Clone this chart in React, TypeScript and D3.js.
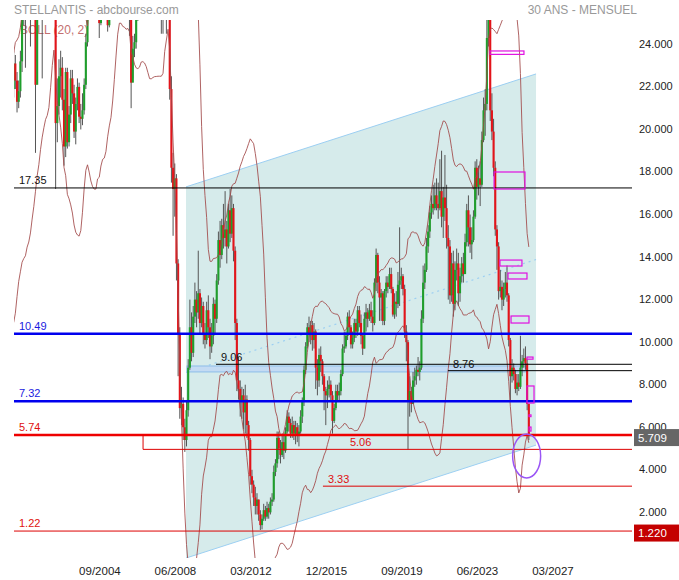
import React from 'react';
import * as d3 from 'd3';

// monthly closes, Jan 1999 -> Mar 2026 (one row per year)
const closes = [
  13.0, 12.4, 13.2, 14.5, 14.0, 15.2, 15.8, 15.0, 16.3, 17.5, 17.0, 18.6,
  17.8, 19.0, 20.2, 19.6, 21.0, 21.8, 22.0, 23.2, 22.4, 21.4, 21.9, 23.3,
  25.5, 27.0, 28.0, 29.0, 30.0, 28.5, 29.0, 27.5, 22.2, 26.0, 28.0, 29.0,
  28.0, 29.5, 31.0, 32.0, 33.0, 31.5, 29.0, 27.5, 20.4, 21.2, 22.6, 23.0,
  21.5, 19.3, 22.8, 19.5, 20.8, 22.5, 21.8, 20.0, 21.3, 22.1, 20.7, 20.6,
  21.0, 22.2, 24.2, 26.5, 27.0, 28.0, 27.5, 26.8, 27.2, 26.0, 25.1, 26.5,
  27.5, 28.5, 26.5, 25.0, 26.5, 27.5, 28.5, 28.0, 28.8, 27.5, 28.0, 29.0,
  30.0, 29.0, 30.0, 29.5, 26.0, 22.3, 23.9, 24.2, 25.5, 27.0, 28.0, 29.5,
  30.5, 31.0, 32.0, 33.5, 34.0, 33.0, 32.0, 30.5, 31.0, 32.5, 30.0, 29.5,
  27.0, 27.5, 26.5, 26.5, 22.0, 18.3, 17.3, 17.8, 13.8, 10.5, 7.0, 7.2,
  6.1, 5.5, 6.9, 8.9, 10.8, 9.6, 11.3, 12.1, 11.5, 12.4, 11.0, 11.8,
  10.5, 10.2, 11.6, 10.8, 9.9, 10.4, 11.9, 11.2, 13.0, 14.9, 14.2, 15.6,
  15.0, 15.4, 14.6, 16.3, 15.2, 16.4, 14.4, 11.0, 8.3, 7.9, 7.3, 7.6,
  6.8, 7.4, 6.2, 5.5, 3.8, 3.4, 2.8, 2.4, 2.7, 2.0, 1.5, 1.8,
  2.2, 1.9, 2.3, 2.1, 2.6, 2.7, 4.0, 4.4, 5.6, 5.1, 4.8, 5.4,
  5.0, 5.9, 6.6, 6.3, 5.8, 6.2, 5.8, 6.1, 5.7, 5.9, 6.6, 7.3,
  8.8, 9.9, 10.8, 10.5, 10.9, 10.2, 10.6, 8.9, 8.3, 9.5, 9.2, 8.5,
  7.8, 7.6, 7.9, 8.1, 7.6, 6.4, 7.0, 7.8, 7.6, 7.8, 8.6, 9.8,
  9.9, 10.4, 11.3, 10.8, 10.0, 10.3, 11.0, 10.6, 11.6, 11.0, 10.4, 9.8,
  11.2, 11.5, 11.2, 11.6, 11.3, 11.0, 12.9, 14.2, 12.9, 12.2, 12.4, 11.1,
  12.5, 12.9, 12.7, 13.3, 12.6, 11.4, 12.0, 11.9, 12.8, 13.0, 13.2, 12.6,
  10.6, 10.1, 7.3, 7.8, 7.2, 8.3, 8.5, 8.8, 8.7, 8.9, 11.2, 12.9,
  13.5, 14.6, 15.3, 16.2, 16.6, 16.4, 17.0, 16.6, 16.4, 17.2, 16.0, 16.9,
  16.4, 15.0, 14.6, 12.3, 13.8, 11.9, 13.5, 13.8, 12.4, 13.2, 13.8, 13.3,
  14.8, 16.3, 15.5, 14.7, 14.9, 16.0, 18.3, 17.4, 17.8, 17.5, 19.6, 21.0,
  21.3, 24.4, 26.0, 21.0, 20.0, 18.3, 15.4, 14.6, 12.5, 12.7, 12.1, 12.6,
  12.9, 12.3, 10.2, 8.5, 8.9, 8.6, 7.9, 8.2, 8.0, 8.9, 9.2, 9.35,
  9.1, 7.2, 5.709,
];

const highs = [
  13.8, 13.5, 13.6, 14.9, 15.0, 15.6, 16.4, 16.2, 16.6, 17.9, 18.0, 18.9,
  18.9, 19.5, 20.8, 21.0, 21.5, 22.4, 22.8, 23.8, 23.6, 22.8, 22.4, 23.8,
  26.0, 27.8, 28.9, 29.8, 30.8, 30.5, 29.8, 29.5, 28.0, 26.8, 28.6, 29.8,
  29.8, 30.2, 31.6, 32.8, 33.8, 33.5, 31.8, 29.8, 28.0, 22.5, 23.4, 23.8,
  23.5, 22.0, 23.0, 23.0, 21.2, 22.9, 22.9, 22.2, 21.6, 22.5, 22.3, 21.3,
  21.8, 22.5, 24.6, 26.9, 27.8, 28.6, 28.3, 27.9, 27.8, 27.5, 26.3, 26.9,
  27.9, 28.9, 28.8, 26.9, 26.8, 27.9, 28.9, 28.9, 29.2, 29.0, 28.4, 29.4,
  30.5, 30.4, 30.6, 30.6, 29.8, 26.5, 24.5, 24.6, 25.9, 27.4, 28.4, 29.8,
  30.9, 31.6, 32.6, 33.9, 34.6, 34.3, 33.4, 32.6, 31.6, 32.9, 32.8, 30.9,
  29.8, 28.5, 27.9, 27.2, 27.0, 22.6, 19.0, 18.5, 18.0, 14.0, 10.8, 8.0,
  7.5, 6.5, 7.3, 9.3, 12.1, 11.5, 11.8, 12.9, 12.5, 14.4, 12.6, 12.2,
  12.0, 11.0, 12.0, 12.3, 11.2, 11.0, 12.2, 12.1, 13.3, 15.3, 15.8, 15.9,
  16.6, 17.2, 15.8, 16.6, 17.3, 17.0, 16.6, 14.6, 11.2, 9.4, 8.3, 8.0,
  7.9, 8.1, 7.6, 6.4, 5.6, 4.1, 3.6, 3.3, 3.0, 2.7, 2.2, 2.0,
  2.5, 2.4, 2.6, 2.5, 2.8, 3.0, 4.3, 4.6, 5.9, 5.9, 5.5, 5.8,
  5.8, 6.1, 6.9, 6.8, 6.5, 6.6, 6.4, 6.4, 6.3, 6.2, 6.9, 7.5,
  9.0, 10.1, 11.0, 11.3, 11.1, 11.1, 11.0, 10.7, 9.3, 9.8, 9.9, 9.3,
  8.6, 8.0, 8.3, 8.5, 8.3, 7.8, 7.2, 8.1, 8.1, 8.2, 8.8, 10.0,
  10.6, 10.6, 11.5, 11.6, 10.9, 10.6, 11.2, 11.2, 11.8, 11.8, 11.4, 10.5,
  11.5, 11.9, 11.7, 11.9, 12.0, 11.6, 13.1, 14.5, 14.3, 13.2, 12.6, 12.5,
  12.6, 13.2, 13.2, 13.6, 13.6, 12.7, 12.4, 12.5, 13.4, 15.5, 13.6, 13.3,
  12.8, 10.9, 10.2, 8.5, 8.0, 8.7, 8.9, 9.0, 9.4, 9.2, 11.6, 13.7,
  13.8, 15.0, 15.6, 16.5, 17.0, 17.5, 17.6, 17.8, 17.6, 18.7, 19.1, 17.4,
  18.9, 17.5, 15.6, 14.9, 14.3, 14.4, 13.9, 14.5, 14.3, 13.6, 14.1, 14.3,
  15.2, 16.6, 17.0, 16.1, 15.5, 16.3, 18.6, 18.7, 18.4, 18.6, 20.0, 21.6,
  22.0, 25.5, 27.5, 26.5, 21.8, 20.6, 18.6, 15.6, 14.8, 13.5, 13.0, 12.9,
  13.4, 13.7, 12.4, 10.3, 9.3, 9.1, 8.8, 8.6, 8.6, 10.4, 9.5, 9.8,
  9.9, 9.3, 7.2,
];

const lows = [
  12.2, 11.8, 12.1, 13.0, 13.6, 13.8, 14.9, 14.6, 14.8, 16.0, 16.5, 16.8,
  17.2, 17.6, 18.7, 18.9, 19.4, 20.6, 21.2, 21.6, 22.0, 20.9, 21.1, 21.6,
  22.8, 25.0, 23.0, 27.0, 28.5, 24.0, 27.6, 26.5, 19.0, 23.3, 25.5, 27.2,
  22.5, 27.6, 29.2, 30.5, 31.5, 30.6, 28.2, 26.0, 17.3, 19.5, 20.8, 21.6,
  21.0, 18.4, 18.8, 19.2, 19.3, 20.4, 21.3, 19.7, 19.4, 21.0, 20.4, 20.1,
  20.3, 20.8, 22.0, 24.0, 26.0, 26.6, 26.9, 26.2, 26.4, 25.8, 24.4, 25.0,
  26.3, 27.2, 26.2, 24.7, 24.9, 26.2, 27.2, 27.5, 27.8, 27.0, 27.2, 27.8,
  28.8, 28.6, 28.8, 29.0, 24.5, 21.1, 22.5, 23.5, 23.9, 25.2, 26.8, 27.8,
  29.2, 29.9, 30.4, 31.8, 33.0, 32.6, 31.6, 28.0, 29.6, 30.6, 29.6, 24.6,
  24.6, 25.9, 24.6, 25.8, 21.5, 17.6, 15.1, 16.0, 13.0, 8.5, 6.5, 6.2,
  5.5, 4.94, 5.2, 6.6, 8.8, 9.2, 9.4, 11.0, 10.8, 11.2, 10.5, 10.8,
  10.0, 9.8, 10.0, 10.3, 9.3, 9.6, 10.0, 10.5, 11.0, 12.8, 13.6, 14.0,
  14.5, 14.6, 13.8, 14.5, 14.8, 15.0, 13.9, 10.2, 7.8, 7.4, 6.6, 6.5,
  6.0, 5.8, 5.6, 5.0, 3.4, 3.0, 2.4, 2.0, 2.0, 1.7, 1.27, 1.3,
  1.7, 1.7, 1.8, 1.8, 2.0, 2.4, 2.6, 3.8, 4.2, 4.6, 4.4, 4.7,
  4.6, 4.9, 5.8, 5.9, 5.6, 5.6, 5.5, 5.3, 5.4, 5.2, 5.8, 6.3,
  7.1, 8.6, 9.8, 10.1, 10.0, 9.7, 9.8, 7.9, 7.6, 8.0, 8.7, 8.1,
  6.9, 6.2, 7.0, 7.5, 7.3, 5.8, 6.3, 6.9, 7.3, 7.3, 7.6, 8.5,
  9.6, 9.8, 10.2, 10.5, 9.8, 9.8, 10.1, 10.3, 10.4, 10.8, 10.0, 9.5,
  9.8, 10.6, 10.8, 11.1, 11.0, 10.6, 10.9, 12.5, 12.4, 11.1, 11.1, 10.9,
  10.9, 12.2, 12.4, 12.6, 12.4, 11.3, 11.2, 11.3, 11.7, 11.8, 12.6, 12.3,
  10.3, 9.2, 5.06, 6.6, 6.8, 7.2, 8.0, 8.1, 8.5, 8.3, 8.8, 11.0,
  12.6, 13.4, 14.3, 15.0, 15.9, 16.1, 16.3, 16.3, 15.9, 16.3, 15.5, 15.0,
  15.8, 14.5, 12.1, 11.9, 12.0, 11.3, 11.6, 13.0, 11.8, 12.0, 12.9, 12.9,
  13.4, 14.6, 14.6, 14.3, 14.0, 14.8, 15.9, 16.8, 17.0, 16.5, 17.4, 19.5,
  19.8, 21.0, 24.0, 20.5, 19.6, 17.9, 15.1, 13.5, 12.1, 12.2, 11.6, 11.8,
  12.2, 12.0, 9.9, 7.3, 8.2, 8.3, 7.7, 7.6, 7.8, 7.9, 8.5, 8.9,
  8.8, 6.9, 5.5,
];

// month index 0 = Jan 1999
const dateLabels = ['09/2004', '06/2008', '03/2012', '12/2015', '09/2019', '06/2023', '03/2027'];
const priceTicks = [2, 4, 6, 8, 10, 12, 14, 16, 18, 20, 22, 24];

// full width horizontal levels
const levelValues = [17.35, 10.49, 7.32, 5.74, 1.22];
const levelKinds = ['black', 'blue', 'blue', 'red', 'redThin'];

// partial levels (start month, label month)
const segValues = [9.06, 8.76, 5.06, 3.33];
const segStart = [139.6, 277.8, 96.1, 203.3];
const segLabelAt = [139.6, 277.8, 216.4, 203.3];
const segKinds = ['black', 'black', 'redThin', 'redThin'];

// regression channel
const channelDates = [121.7, 330.3];
const channelUpper = [17.4, 22.71];
const channelLower = [-0.05, 5.26];

// horizontal zone
const zoneDates = [122.3, 324.9];
const zonePrices = [8.7, 8.98];

// open gaps
const gapStart = [302.9, 305.3, 308.8, 313.6, 315.4, 324.9, 324.9, 326.1, 326.1];
const gapEnd = [323.1, 323.7, 321.9, 324.9, 326.1, 328.5, 329.1, 327.3, 327.3];
const gapLow = [23.63, 17.3, 13.68, 13.07, 11.0, 9.3, 7.24, 6.6, 5.92];
const gapHigh = [23.79, 18.1, 13.96, 13.35, 11.33, 9.4, 8.04, 6.68, 6.11];

const circleAt = [324.7, 4.75];
const lastLowLevel = 1.22;

const W = 679;
const H = 580;
const plotL = 14;
const plotR = 632;
const plotT = 20;
const plotB = 558;
const font = '"Liberation Sans", Arial, sans-serif';

const kindStyle: Record<string, { stroke: string; width: number; text: string }> = {
  black: { stroke: '#000', width: 1, text: '#111' },
  blue: { stroke: '#0000ee', width: 2.5, text: '#1a1ae0' },
  red: { stroke: '#ee0000', width: 2.5, text: '#e01010' },
  redThin: { stroke: '#dd0000', width: 1, text: '#e01010' },
};

const monthOf = (s: string) => {
  const [mm, yy] = s.split('/').map(Number);
  return (yy - 1999) * 12 + mm - 1;
};

export default function App() {
  const x = d3.scaleLinear().domain([18, 368]).range([12, 12 + 1.678 * 350]);
  const y = d3.scaleLinear().domain([0, 24]).range([557, 46.5]);

  // bollinger 20, 2
  const boll = closes.map((c, i) => {
    if (i < 19) return null;
    const w = closes.slice(i - 19, i + 1);
    const m = d3.mean(w) as number;
    const sd = Math.sqrt(d3.mean(w, (v) => (v - m) * (v - m)) as number);
    return { i, up: m + 2 * sd, lo: m - 2 * sd };
  }).filter(Boolean) as { i: number; up: number; lo: number }[];

  const upLine = d3.line<{ i: number; up: number }>().x((d) => x(d.i)).y((d) => y(d.up));
  const loLine = d3.line<{ i: number; lo: number }>().x((d) => x(d.i)).y((d) => y(d.lo));

  const bw = 2.1;
  const candles = closes.map((c, i) => {
    const o = i > 0 ? closes[i - 1] : c;
    return { i, o, c, h: highs[i], l: lows[i], up: c >= o };
  });

  const chPoly = [
    [x(channelDates[0]), y(channelUpper[0])],
    [x(channelDates[1]), y(channelUpper[1])],
    [x(channelDates[1]), y(channelLower[1])],
    [x(channelDates[0]), y(channelLower[0])],
  ];
  const midA = (channelUpper[0] + channelLower[0]) / 2;
  const midB = (channelUpper[1] + channelLower[1]) / 2;
  const last = closes[closes.length - 1];

  return (
    <svg width={W} height={H} style={{ position: 'absolute', left: 0, top: 0, background: '#fff' }} fontFamily={font}>
      <defs>
        <clipPath id="plot">
          <rect x={plotL} y={plotT} width={plotR - plotL} height={plotB - plotT} />
        </clipPath>
      </defs>
      <text x={14} y={14} fontSize={12} fill="#999">STELLANTIS - abcbourse.com</text>
      <text x={637} y={14} fontSize={12} fill="#999" textAnchor="end">30 ANS - MENSUEL</text>

      <g clipPath="url(#plot)">
        <polygon points={chPoly.map((p) => p.join(',')).join(' ')} fill="#d6ebeb" />
        <line x1={x(channelDates[0])} x2={x(channelDates[1])} y1={y(channelUpper[0])} y2={y(channelUpper[1])} stroke="#9ccff2" />
        <line x1={x(channelDates[0])} x2={x(channelDates[1])} y1={y(channelLower[0])} y2={y(channelLower[1])} stroke="#9ccff2" />
        <line x1={x(channelDates[0])} x2={x(channelDates[1])} y1={y(midA)} y2={y(midB)} stroke="#9ccff2" strokeDasharray="2,4" strokeWidth={1.2} />
        <rect x={x(zoneDates[0])} y={y(zonePrices[1])} width={x(zoneDates[1]) - x(zoneDates[0])} height={y(zonePrices[0]) - y(zonePrices[1])} fill="#c4dbf3" stroke="#8dbde9" />

        <text x={20} y={34} fontSize={12} fill="#b04040" opacity={0.75}>BOLL (20, 2)</text>

        {candles.map((d) => (
          <line key={'w' + d.i} x1={x(d.i)} x2={x(d.i)} y1={y(d.h)} y2={y(d.l)} stroke="#555" strokeWidth={1} />
        ))}
        {candles.map((d) => (
          <rect key={'b' + d.i} x={x(d.i) - bw / 2} width={bw}
            y={y(Math.max(d.o, d.c))} height={Math.max(1, Math.abs(y(d.o) - y(d.c)))}
            fill={d.up ? '#1f9e2c' : '#e3141a'} />
        ))}

        <path d={upLine(boll) || ''} fill="none" stroke="#a14848" strokeWidth={1} opacity={0.85} />
        <path d={loLine(boll) || ''} fill="none" stroke="#a14848" strokeWidth={1} opacity={0.85} />

        {levelValues.map((v, j) => {
          const s = kindStyle[levelKinds[j]];
          return <line key={'lv' + j} x1={plotL} x2={plotR} y1={y(v)} y2={y(v)} stroke={s.stroke} strokeWidth={s.width} />;
        })}
        {segValues.map((v, j) => {
          const s = kindStyle[segKinds[j]];
          return <line key={'sg' + j} x1={x(segStart[j])} x2={plotR} y1={y(v)} y2={y(v)} stroke={s.stroke} strokeWidth={s.width} />;
        })}
        <line x1={x(segStart[2])} x2={x(segStart[2])} y1={y(levelValues[3])} y2={y(segValues[2])} stroke="#dd0000" />

        {gapStart.map((g, j) => (
          <rect key={'g' + j} x={x(g)} width={x(gapEnd[j]) - x(g)} y={y(gapHigh[j])}
            height={Math.max(1.5, y(gapLow[j]) - y(gapHigh[j]))} fill="none" stroke="#e010e0" strokeWidth={1.2} />
        ))}
        <ellipse cx={x(circleAt[0])} cy={y(circleAt[1])} rx={14} ry={22} fill="none" stroke="#9a55f5" strokeWidth={1.5} />
      </g>

      {levelValues.map((v, j) => (
        <text key={'lt' + j} x={19} y={y(v) - 4} fontSize={11} fill={kindStyle[levelKinds[j]].text}>{v.toFixed(2)}</text>
      ))}
      {segValues.map((v, j) => (
        <text key={'st' + j} x={x(segLabelAt[j]) + 5} y={y(v) - 3} fontSize={11} fill={kindStyle[segKinds[j]].text}>{v.toFixed(2)}</text>
      ))}

      {priceTicks.map((v) => (
        <text key={'py' + v} x={639} y={y(v) - 2.5} dy="0.35em" fontSize={11} fill="#222">{v.toFixed(3)}</text>
      ))}
      <rect x={634} y={y(last) - 6.5} width={45} height={17} fill="#666" />
      <text x={638} y={y(last) + 2} dy="0.35em" fontSize={11.5} fill="#fff">{last.toFixed(3)}</text>
      <rect x={634} y={y(lastLowLevel) - 6.5} width={45} height={17} fill="#c40000" />
      <text x={638} y={y(lastLowLevel) + 2} dy="0.35em" fontSize={11.5} fill="#fff">{lastLowLevel.toFixed(3)}</text>

      {dateLabels.map((s) => (
        <text key={s} x={x(monthOf(s)) + 4} y={575} textAnchor="middle" fontSize={11.5} fill="#222">{s}</text>
      ))}
    </svg>
  );
}
